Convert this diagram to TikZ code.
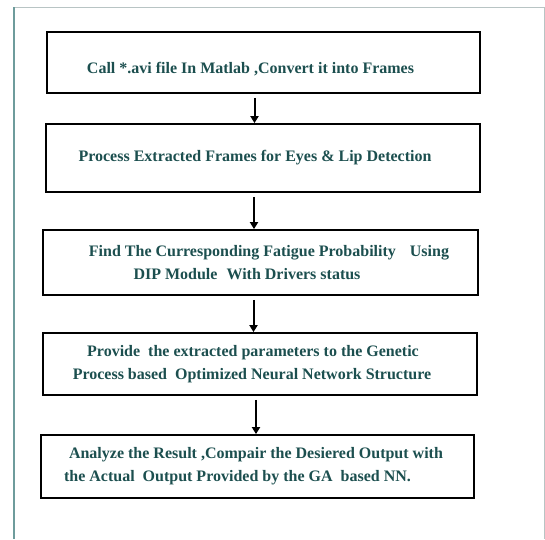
\documentclass[tikz,border=0pt]{standalone}
\usepackage{fontspec}
\setmainfont{Liberation Serif}
\usepackage{xcolor}
\usetikzlibrary{arrows.meta,positioning,calc}
\definecolor{txtteal}{HTML}{1C4F4F}
\definecolor{frameteal}{HTML}{6E9C9C}
\definecolor{framegray}{HTML}{B8C4C4}

\begin{document}
\begin{tikzpicture}[x=1pt,y=-1pt,>={Triangle[length=7pt,width=8pt]},
  blk/.style={draw,line width=1.8pt,inner sep=0pt,font=\bfseries\fontsize{16}{23}\selectfont,text=txtteal},
  arr/.style={->,line width=2pt,shorten <=4pt}]
  \useasboundingbox (0,0) rectangle (545,539);
  % page frame
  \draw[framegray,line width=0.8pt] (13,7.5) -- (544,7.5) -- (544,539);
  \draw[frameteal,line width=2pt] (13.5,7) -- (13.5,539);
  % steps
  \node[blk,minimum width=433pt,minimum height=61pt](b1)at(263.5,62.5)
     {\raisebox{-11pt}[0pt][0pt]{Call *.avi file In Matlab ,Convert it into Frames}\hspace*{26pt}};
  \node[blk,minimum width=434pt,minimum height=68pt](b2)at(263,158)
     {Process Extracted Frames for Eyes \& Lip Detection\hspace*{16pt}};
  \node[blk,minimum width=435pt,minimum height=65pt,align=center](b3)at(260.5,262.5)
     {\hspace*{17pt}Find The Curresponding Fatigue Probability\hspace{10pt} Using\\DIP Module\hspace{5pt} With Drivers status\hspace*{27pt}};
  \node[blk,minimum width=434pt,minimum height=62pt,align=center](b4)at(260,364)
     {Provide\hspace{4pt} the extracted parameters to the Genetic\hspace*{14pt}\\
      Process based\hspace{4pt} Optimized Neural Network Structure\hspace*{16pt}};
  \node[blk,minimum width=433pt,minimum height=63pt,align=left](b5)at(257.5,466.5)
     {\hspace*{5pt}Analyze the Result ,Compair the Desiered Output with\hspace*{8pt}\\the Actual\hspace{4pt} Output Provided by the GA\hspace{4pt} based NN.};
  \draw[arr] ([xshift=-9pt]b1.south) -- ([xshift=-9pt]b1.south |- b2.north);
  \draw[arr] ([xshift=-9pt]b2.south) -- ([xshift=-9pt]b2.south |- b3.north);
  \draw[arr] ([xshift=-7pt]b3.south) -- ([xshift=-7pt]b3.south |- b4.north);
  \draw[arr] ([xshift=-4pt]b4.south) -- ([xshift=-4pt]b4.south |- b5.north);
\end{tikzpicture}
\end{document}
